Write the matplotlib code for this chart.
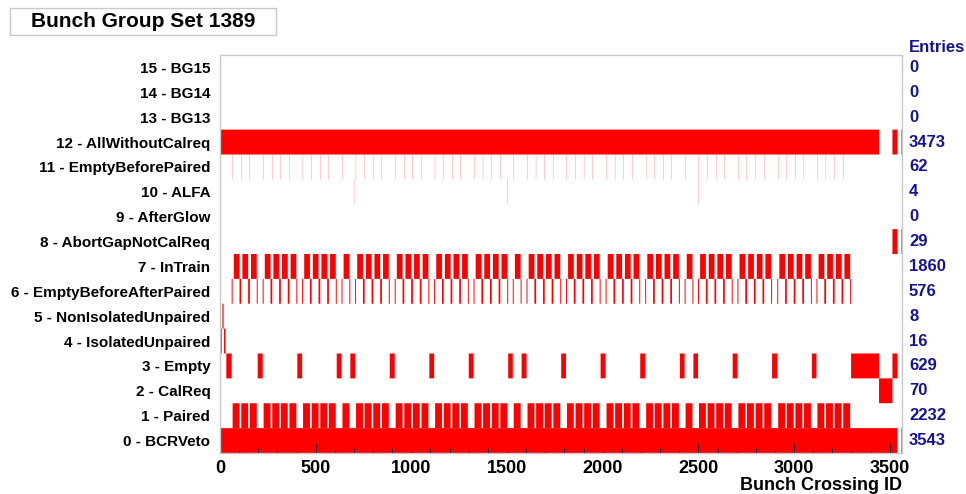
import numpy as np
import matplotlib.pyplot as plt
from matplotlib.patches import Rectangle
from matplotlib.ticker import MultipleLocator

plt.rcParams['font.family'] = ['Liberation Sans', 'DejaVu Sans']
plt.rcParams['font.weight'] = 'bold'
plt.rcParams['axes.labelweight'] = 'bold'

n_bcid = 3564
group_labels = ["0 - BCRVeto", "1 - Paired", "2 - CalReq", "3 - Empty",
                "4 - IsolatedUnpaired", "5 - NonIsolatedUnpaired",
                "6 - EmptyBeforeAfterPaired", "7 - InTrain", "8 - AbortGapNotCalReq",
                "9 - AfterGlow", "10 - ALFA", "11 - EmptyBeforePaired",
                "12 - AllWithoutCalreq", "13 - BG13", "14 - BG14", "15 - BG15"]

# filling scheme
train_start = [66, 228, 434, 640, 711, 918, 1124, 1330, 1535, 1607, 1813, 2020,
               2227, 2433, 2503, 2709, 2917, 3122]
train_batches = [3, 4, 4, 1, 4, 4, 4, 4, 1, 4, 4, 4, 4, 1, 4, 4, 4, 4]
batch_len = 36
batch_gap = 9
intrain_skip = 6
ebap_margin = 5
isolated_bcid = [1, 2, 3, 4, 5, 6, 7, 8, 21, 22, 23, 24, 25, 26, 27, 28]
nonisolated_bcid = [10, 11, 13, 14, 16, 17, 19, 20]
alfa_bcid = [1, 700, 1501, 2501]
calreq_range = (3444, 3513)
abortgap_range = (3540, 3560)
empty_first = 33

# build the bunch group masks
mask = np.zeros((16, n_bcid), dtype=bool)
for s, nb in zip(train_start, train_batches):
    for k in range(nb):
        b = s + k * (batch_len + batch_gap)
        mask[1, b:b + batch_len] = True
        mask[7, b + intrain_skip:b + batch_len] = True
        mask[11, b - 1] = True
    end = s + nb * batch_len + (nb - 1) * batch_gap
    mask[6, s - ebap_margin:end + ebap_margin] = True
mask[6] &= ~mask[1]
mask[2, calreq_range[0]:calreq_range[1] + 1] = True
mask[12] = True
mask[12, calreq_range[0]:calreq_range[1] + 1] = False
mask[12, abortgap_range[0]:abortgap_range[1] + 1] = False
mask[0] = True
mask[0, abortgap_range[0]:abortgap_range[1] + 1] = False
mask[8, calreq_range[1] + 1:] = True
mask[8, abortgap_range[0]:abortgap_range[1] + 1] = False
mask[3, empty_first:abortgap_range[0]] = True
mask[3] &= ~(mask[1] | mask[6] | mask[2])
mask[4, isolated_bcid] = True
mask[5, nonisolated_bcid] = True
mask[10, alfa_bcid] = True
entries = mask.sum(axis=1)

fig = plt.figure(figsize=(9.66, 4.94), dpi=100)
ax = fig.add_axes([220 / 966, 41 / 494, 682 / 966, 398 / 494])

for row in range(16):
    m = np.concatenate(([0], mask[row].astype(int), [0]))
    d = np.diff(m)
    starts = np.where(d == 1)[0]
    stops = np.where(d == -1)[0]
    if len(starts):
        ax.broken_barh(list(zip(starts, stops - starts)), (row - 0.5, 1.0),
                       facecolors='#ff0000', linewidth=0, snap=False,
                       antialiased=True)
    ax.text(1.0103, row, str(entries[row]), transform=ax.get_yaxis_transform(),
            ha='left', va='center', fontsize=12, color='#141494')
ax.text(1.0103, 15.8, "Entries", transform=ax.get_yaxis_transform(),
        ha='left', va='center', fontsize=12, color='#141494')

ax.set_xlim(0, n_bcid)
ax.set_ylim(-0.5, 15.5)
ax.set_yticks(range(16))
ax.set_yticklabels(group_labels, fontsize=11)
ax.tick_params(axis='y', length=0, pad=7)
ax.xaxis.set_major_locator(MultipleLocator(500))
ax.xaxis.set_minor_locator(MultipleLocator(100))
ax.tick_params(axis='x', which='major', direction='in', length=6.5, width=0.6,
               labelsize=13, pad=5)
ax.tick_params(axis='x', which='minor', direction='in', length=3.6, width=0.6)
ax.set_xlabel("Bunch Crossing ID", loc='right', fontsize=13, labelpad=0)
for sp in ax.spines.values():
    sp.set_color('#c8c8c8')
    sp.set_linewidth(1)

fig.add_artist(Rectangle((10 / 966, 1 - 35 / 494), 266 / 966, 27 / 494,
                         transform=fig.transFigure, facecolor='white',
                         edgecolor='#c8c8c8', linewidth=1))
fig.text(143 / 966, 1 - 21.5 / 494, "Bunch Group Set 1389", ha='center',
         va='center', fontsize=15)

fig.savefig("out.png", dpi=100)
